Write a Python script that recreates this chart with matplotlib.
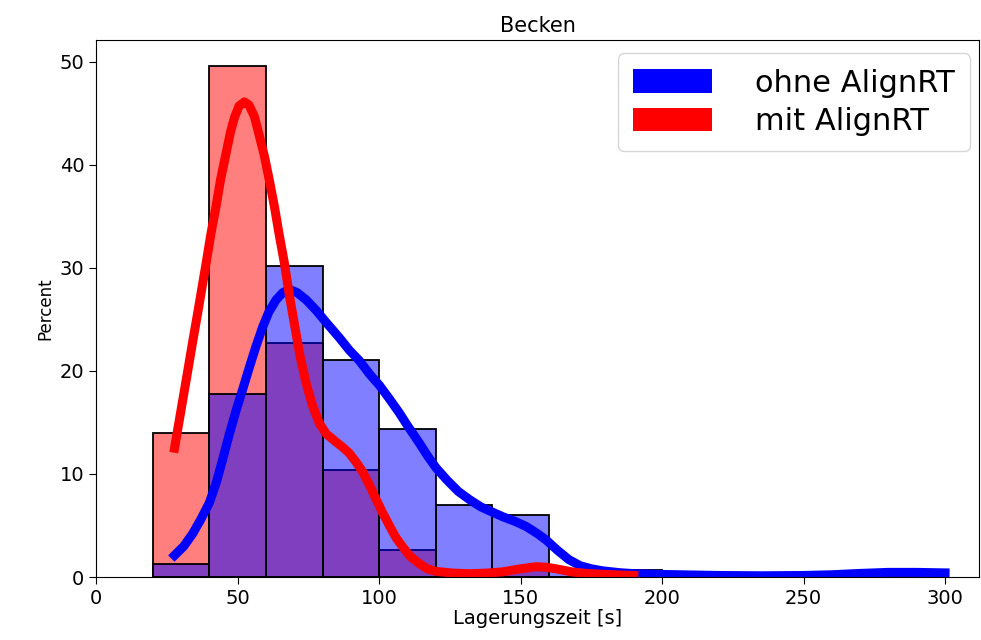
import matplotlib
matplotlib.use("Agg")
import matplotlib.pyplot as plt
from matplotlib.patches import Patch

# histogram bins (width 20 s) and percentages
bin_edges = [20, 40, 60, 80, 100, 120, 140, 160, 180, 200, 220, 240, 260, 280]
ohne_pct = [1.3, 17.8, 30.2, 21.1, 14.4, 7.0, 6.0, 0.7, 0.7, 0.0, 0.0, 0.0, 0.0, 0.7]
mit_pct = [14.0, 49.6, 22.7, 10.4, 2.6, 0.0, 0.8, 0.0, 0.0, 0.0, 0.0, 0.0, 0.0, 0.0]

# kde curves
ohne_kde_x = [27.7, 31, 34.1, 37, 40, 42.5, 44.7, 47, 49.5, 52, 54.2, 56.5, 58.9,
              61, 63.6, 66, 68.3, 71, 74.2, 78, 81.3, 86, 89.5, 93, 96.6, 100.1,
              103.6, 107.2, 110, 114.2, 117, 120.1, 124, 128, 132, 136, 140,
              143.7, 148, 152, 156, 159, 163, 167, 171, 175, 179, 185, 190, 200,
              210, 220, 235, 250, 260, 270, 280, 290, 300]
ohne_kde_y = [2.1, 3.0, 4.2, 5.6, 7.2, 9.2, 11.4, 13.8, 16.2, 18.4, 20.4, 22.4, 24.3,
              25.7, 26.9, 27.6, 27.9, 27.6, 26.9, 25.8, 24.7, 23.2, 22.0, 21.0, 19.7,
              18.6, 17.3, 15.9, 14.7, 13.0, 11.8, 10.6, 9.4, 8.3, 7.5, 6.8, 6.3,
              5.85, 5.4, 4.9, 4.2, 3.6, 2.6, 1.7, 1.1, 0.8, 0.6, 0.42, 0.33, 0.25,
              0.2, 0.15, 0.12, 0.15, 0.22, 0.35, 0.45, 0.45, 0.4]
mit_kde_x = [27.7, 30, 32, 34.1, 36, 38.9, 40.5, 42.4, 44, 45.9, 47.5, 48.9, 50.5,
             52.4, 54, 55.9, 57.5, 59.5, 61.2, 63, 64.7, 66.5, 68.3, 70.1, 72,
             74.2, 76.5, 78.9, 81.3, 84.8, 87.1, 89.5, 92, 94.2, 96.6, 99, 101.3,
             104, 106, 108.4, 111, 114.2, 117, 120.1, 126, 132, 138, 143.7, 150,
             155.5, 159, 162.5, 168, 173, 180, 185, 190]
mit_kde_y = [12.5, 16.2, 19.4, 22.8, 25.8, 30.5, 33.2, 36.0, 38.6, 41.1, 43.2, 44.6,
             45.7, 46.1, 45.8, 44.7, 43.0, 40.8, 38.5, 35.95, 33.2, 30.5, 27.3, 24.5,
             21.5, 18.8, 16.6, 14.9, 13.9, 13.1, 12.6, 12.0, 11.1, 10.2, 8.9, 7.5,
             6.2, 4.8, 3.8, 2.9, 2.0, 1.3, 0.8, 0.55, 0.38, 0.32, 0.38, 0.5, 0.8,
             1.0, 0.95, 0.8, 0.5, 0.35, 0.25, 0.2, 0.15]

fig = plt.figure(figsize=(9.81, 6.4), dpi=100)
ax = fig.add_axes([0.098, 0.0984, 0.9, 0.839])

ax.bar(bin_edges, mit_pct, width=20, align="edge", facecolor=(1, 0, 0, 0.5),
       edgecolor="black", linewidth=1.3)
ax.bar(bin_edges, ohne_pct, width=20, align="edge", facecolor=(0, 0, 1, 0.5),
       edgecolor="black", linewidth=1.3)

ax.plot(ohne_kde_x, ohne_kde_y, color="blue", lw=6.5, solid_joinstyle="round")
ax.plot(mit_kde_x, mit_kde_y, color="red", lw=6.5, solid_joinstyle="round")

ax.set_xlim(0, 312)
ax.set_ylim(0, 52.1)
ax.set_xticks([0, 50, 100, 150, 200, 250, 300])
ax.set_yticks([0, 10, 20, 30, 40, 50])
ax.tick_params(labelsize=14, length=5)
ax.set_xlabel("Lagerungszeit [s]", fontsize=14, labelpad=1)
ax.set_ylabel("Percent", fontsize=12)
ax.set_title("Becken", fontsize=15)

handles = [Patch(facecolor="blue"), Patch(facecolor="red")]
ax.legend(handles, ["ohne AlignRT", "mit AlignRT"], loc="upper right",
          fontsize=22, handlelength=2.6, handleheight=0.8, handletextpad=1.4,
          borderpad=0.5, labelspacing=0.3, borderaxespad=0,
          bbox_to_anchor=(0.99, 0.975))

fig.savefig("out.png", dpi=100)
